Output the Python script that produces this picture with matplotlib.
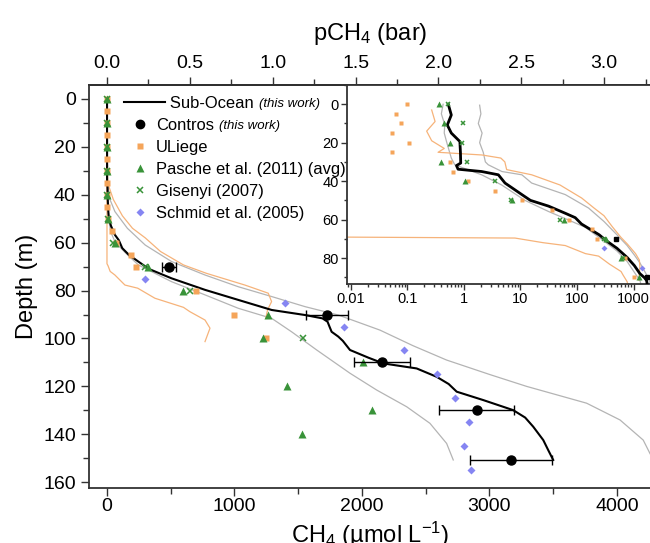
import numpy as np
import matplotlib
matplotlib.use('Agg')
import matplotlib.pyplot as plt
from matplotlib.lines import Line2D
from matplotlib.legend_handler import HandlerLine2D
from matplotlib.ticker import MultipleLocator, LogLocator, FuncFormatter, NullFormatter

plt.rcParams['font.family'] = ['Liberation Sans', 'DejaVu Sans']
plt.rcParams['mathtext.fontset'] = 'custom'
plt.rcParams['mathtext.rm'] = 'Liberation Sans'
plt.rcParams['mathtext.it'] = 'Liberation Sans:italic'

# Sub-Ocean profile (this work)
so_depth = [0, 5.6, 10.8, 15, 19.4, 25, 30.6, 31.9, 33.8, 35, 36.7, 41, 47, 50, 53, 56.8, 59,
            62.3, 65, 67.9, 71, 74.9, 79.7, 83.9, 88.1, 90.2, 91.6, 93, 95, 97.2, 99.2, 101,
            104.8, 108, 110.4, 112.5, 116, 119, 122.2, 125.7, 129.9, 133, 136.8, 142.4, 146.6, 150.7]
so_ch4 = [0.53, 0.6, 0.51, 0.6, 0.85, 0.87, 0.88, 0.74, 0.79, 2.06, 4.07, 5.34, 10.6, 15, 31.4, 63, 93,
          120, 170, 246, 330, 507, 769, 1030, 1292, 1553, 1690, 1730, 1745, 1762, 1814, 1850,
          1906, 2050, 2167, 2429, 2586, 2680, 2743, 2951, 3186, 3280, 3343, 3422, 3461, 3500]

# Sub-Ocean envelope (gray)
so_lo_depth = [0, 5, 10.7, 15, 20, 28, 31.5, 36.7, 42, 50, 55.8, 59.6, 64, 69.3, 76.3, 81.8, 87.4,
               91.6, 97.2, 104.8, 114.5, 121.5, 128.5, 135.4, 143.8, 150.7]
so_lo_ch4 = [0.43, 0.4, 0.46, 0.45, 0.5, 0.6, 0.69, 2.06, 4.66, 12, 31.4, 63, 140, 246, 507, 769, 1030,
             1292, 1448, 1645, 1906, 2115, 2351, 2533, 2664, 2716]
so_hi_depth = [0.5, 5, 10, 15, 20, 25, 30, 31.5, 35, 36.7, 41, 47, 54, 61, 67.9, 73.5, 78.4, 82.5,
               86.7, 90.2, 96.5, 103, 109, 115, 120, 127, 134, 142.4, 148, 152]
so_hi_ch4 = [1.9, 2.0, 1.8, 2.1, 1.9, 2.2, 2.4, 2.7, 4.7, 10.6, 15.8, 62, 160, 300, 507, 769, 1030, 1292,
             1553, 1814, 2141, 2400, 2664, 3000, 3292, 3762, 4024, 4206, 4259, 4300]

# ULiege envelope (orange)
ul_lo_depth = [0, 68.8, 69.6, 72, 73.5, 77.7, 79, 83.2, 87, 88.8, 92.3, 95.7, 101.3]
ul_lo_ch4 = [1e-4, 1e-4, 8, 25, 62, 141, 241, 376, 600, 650, 769, 808, 769]
ul_hi_depth = [3, 9, 14, 19, 23, 25, 26.4, 28, 30, 34, 36.7, 42, 48.8, 54, 58, 63.7, 69.3, 72.8,
               77.7, 81.1, 84.6, 88, 91.6]
ul_hi_ch4 = [0.27, 0.31, 0.22, 0.27, 0.45, 0.35, 2.1, 4.5, 5.3, 5.7, 15.8, 50, 121, 200, 300, 420, 600,
             780, 1082, 1265, 1291, 1260, 1245]

# Contros (this work)
ct_depth = [70, 90, 110, 130, 150.7]
ct_ch4 = [486, 1725, 2159, 2899, 3169]
ct_err = [52, 167, 220, 292, 325]

# ULiege
ul_depth = [0, 5, 10, 15, 20, 25, 30, 35, 40, 45, 50, 55, 60, 65, 70, 80, 90, 100]
ul_ch4 = [0.1, 0.062, 0.078, 0.053, 0.106, 0.053, 0.58, 0.64, 1.2, 3.5, 10.6, 36, 73, 185, 225, 700, 1000, 1250]

# Pasche et al. (2011)
pa_depth = [0, 10, 20, 30, 40, 50, 60, 70, 80, 90, 100, 110, 120, 130, 140]
pa_ch4 = [0.36, 0.44, 0.58, 0.39, 1.04, 7, 60, 320, 600, 1265, 1226, 2010, 1409, 2076, 1532]

# Gisenyi (2007)
gi_depth = [0, 10, 20, 30, 40, 50, 60, 70, 80, 100]
gi_ch4 = [0.53, 0.98, 0.91, 1.12, 3.5, 6.8, 50, 300, 650, 1535]

# Schmid et al. (2005)
sc_depth = [75, 85, 95, 105, 115, 125, 135, 145, 155]
sc_ch4 = [300, 1400, 1861, 2332, 2586, 2732, 2839, 2797, 2855]

orange = '#f5a55a'
orange_line = '#f6b37a'
green = '#399339'
purple = '#8585f2'
gray = '#b4b4b4'


class LongLineHandler(HandlerLine2D):
    # legend line that runs wider than the marker handles
    def create_artists(self, legend, orig_handle, xdescent, ydescent, width, height, fontsize, trans):
        y = height / 2.0 - ydescent
        ln = Line2D([-xdescent - 0.42 * width, -xdescent + 1.95 * width], [y, y],
                    color=orig_handle.get_color(), lw=orig_handle.get_linewidth())
        ln.set_transform(trans)
        return [ln]


fig = plt.figure(figsize=(6.5, 5.43), dpi=100)
ax = fig.add_axes([89/650, 1 - 488/543, 562/650, 403/543])


def draw_profiles(a, ms, inset=False):
    h = {}
    a.plot(so_lo_ch4, so_lo_depth, color=gray, lw=0.9)
    a.plot(so_hi_ch4, so_hi_depth, color=gray, lw=0.9)
    a.plot(ul_lo_ch4, ul_lo_depth, color=orange_line, lw=0.9)
    a.plot(ul_hi_ch4, ul_hi_depth, color=orange_line, lw=0.9)
    h['so'], = a.plot(so_ch4, so_depth, color='black', lw=2.0 if inset else 1.5, zorder=4)
    if inset:
        a.plot(ct_ch4, ct_depth, 's', color='black', ms=ms - 0.5, zorder=6)
    else:
        a.errorbar(ct_ch4, ct_depth, xerr=ct_err, fmt='o', color='black', ms=ms + 1.5,
                   elinewidth=1, capsize=3.5, capthick=1, zorder=6)
    h['ul'], = a.plot(ul_ch4, ul_depth, 's', color=orange, ms=ms, mec='none', zorder=5)
    h['pa'], = a.plot(pa_ch4, pa_depth, '^', color=green, ms=ms + 1, mec='none', zorder=5)
    h['gi'], = a.plot(gi_ch4, gi_depth, 'x', color=green, ms=ms, mew=1.1, zorder=5)
    h['sc'], = a.plot(sc_ch4, sc_depth, 'D', color=purple, ms=ms - 0.5, mec='none', zorder=5)
    return h


hd = draw_profiles(ax, 5)

ax.set_xlim(-141, 4267)
ax.set_ylim(162.4, -5.8)
ax.xaxis.set_major_locator(MultipleLocator(1000))
ax.xaxis.set_minor_locator(MultipleLocator(500))
ax.yaxis.set_major_locator(MultipleLocator(20))
ax.yaxis.set_minor_locator(MultipleLocator(10))
ax.tick_params(which='both', direction='out', labelsize=14, width=1, color='#333333')
ax.tick_params(which='major', length=6)
ax.tick_params(which='minor', length=4)
ax.tick_params(axis='x', pad=1.5)
ax.spines['right'].set_visible(False)
for s in ['left', 'bottom', 'top']:
    ax.spines[s].set_linewidth(1.3)
    ax.spines[s].set_color('#333333')
ax.set_xlabel('CH$_4$ (\u00b5mol L$^{-1}$)', fontsize=17, labelpad=3)
ax.set_ylabel('Depth (m)', fontsize=17, labelpad=4)

top = ax.secondary_xaxis('top', functions=(lambda x: x / 1300.0, lambda p: p * 1300.0))
top.xaxis.set_major_locator(MultipleLocator(0.5))
top.xaxis.set_minor_locator(MultipleLocator(0.25))
top.xaxis.set_major_formatter(FuncFormatter(lambda v, p: f'{v:.1f}'))
top.tick_params(which='both', direction='out', labelsize=14, width=1, color='#333333')
top.tick_params(which='major', length=6)
top.tick_params(which='minor', length=4)
top.spines['top'].set_linewidth(1.3)
top.set_xlabel('pCH$_4$ (bar)', fontsize=17, labelpad=11)

leg_fs = 11.9
ct_handle = Line2D([], [], marker='o', ls='none', color='black', ms=6)
handles = [hd['so'], ct_handle, hd['ul'], hd['pa'], hd['gi'], hd['sc']]
labels = ['   Sub-Ocean', 'Contros', 'ULiege', 'Pasche et al. (2011) (avg)',
          'Gisenyi (2007)', 'Schmid et al. (2005)']
leg = ax.legend(handles, labels, loc='upper left', bbox_to_anchor=(0.0747, 0.973),
                frameon=False, fontsize=leg_fs, handlelength=1.05, handletextpad=0.45,
                labelspacing=0.42, borderpad=0, borderaxespad=0,
                handler_map={hd['so']: LongLineHandler()})

# inset with log scale
ins = fig.add_axes([347/650, 1 - 284/543, 304/650, 199/543])
draw_profiles(ins, 3.5, inset=True)
ins.set_xscale('log')
ins.set_xlim(0.0086, 2030)
ins.set_ylim(93.5, -10)
ins.xaxis.set_major_locator(LogLocator(base=10, numticks=10))
ins.xaxis.set_minor_locator(LogLocator(base=10, subs=np.arange(2, 10), numticks=10))
ins.xaxis.set_minor_formatter(NullFormatter())
ins.xaxis.set_major_formatter(FuncFormatter(lambda v, p: f'{v:g}'))
ins.yaxis.set_major_locator(MultipleLocator(20))
ins.yaxis.set_minor_locator(MultipleLocator(10))
ins.tick_params(which='both', direction='out', labelsize=10.5, width=1, color='#333333', pad=2)
ins.tick_params(which='major', length=4)
ins.tick_params(which='minor', length=2)
for s in ins.spines.values():
    s.set_linewidth(1.3)
    s.set_color('#333333')

# italic "(this work)" after the first two legend entries
fig.canvas.draw()
r = fig.canvas.get_renderer()
fs_px = leg_fs * 100 / 72.0
for t in leg.get_texts()[:2]:
    bb = t.get_window_extent(r)
    base = bb.y0 + 0.212 * fs_px
    fx, fy = fig.transFigure.inverted().transform((bb.x1 + 5, base))
    fig.text(fx, fy, '(this work)', fontsize=9.5, style='italic', va='baseline', ha='left')

fig.savefig('out.png', dpi=100)
